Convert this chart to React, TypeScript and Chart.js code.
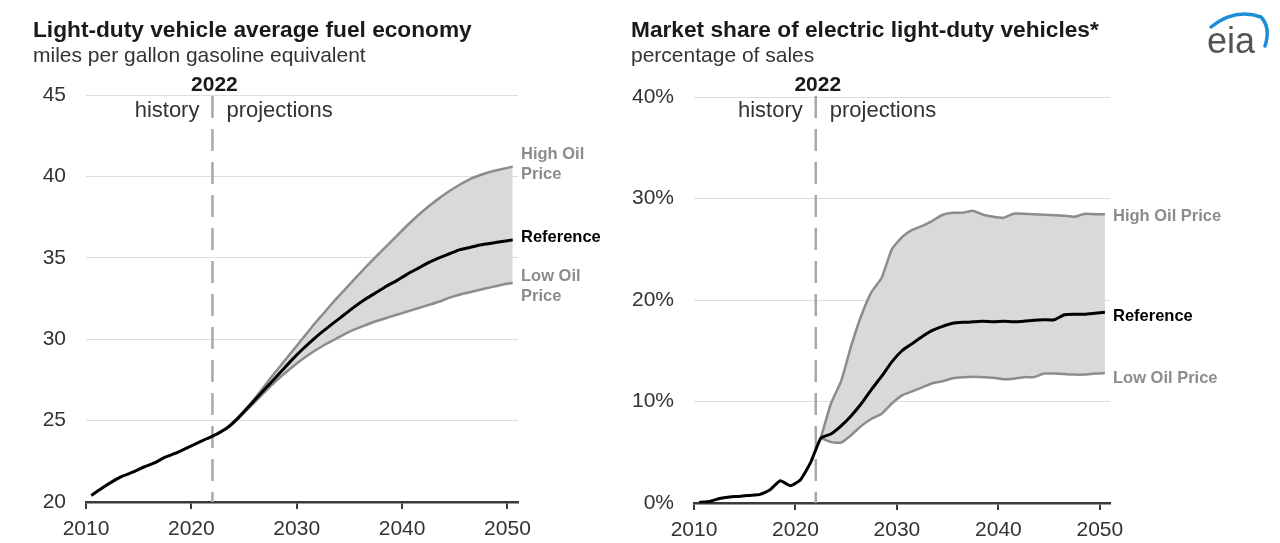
import React, { useEffect, useRef } from "react";
import { Chart, registerables } from "chart.js";

Chart.register(...registerables);

const FONT = "'Liberation Sans', Arial, Helvetica, sans-serif";

// ---------- data ----------
const years = [
  2010, 2011, 2012, 2013, 2014, 2015, 2016, 2017, 2018, 2019, 2020, 2021, 2022,
  2023, 2024, 2025, 2026, 2027, 2028, 2029, 2030, 2031, 2032, 2033, 2034, 2035,
  2036, 2037, 2038, 2039, 2040, 2041, 2042, 2043, 2044, 2045, 2046, 2047, 2048,
  2049, 2050,
];
const projYears = [
  2022, 2023, 2024, 2025, 2026, 2027, 2028, 2029, 2030, 2031, 2032, 2033, 2034,
  2035, 2036, 2037, 2038, 2039, 2040, 2041, 2042, 2043, 2044, 2045, 2046, 2047,
  2048, 2049, 2050,
];

// Light-duty vehicle average fuel economy (mpg gasoline equivalent)
const mpgReference = [
  20.4, 20.85, 21.25, 21.6, 21.85, 22.15, 22.4, 22.75, 23.0, 23.3, 23.6, 23.9,
  24.2, 24.6, 25.2, 25.9, 26.6, 27.3, 28.0, 28.7, 29.35, 29.95, 30.5, 31.0,
  31.5, 32.0, 32.45, 32.85, 33.25, 33.6, 34.0, 34.35, 34.7, 35.0, 35.25, 35.5,
  35.65, 35.8, 35.9, 36.0, 36.1,
];
const mpgHigh = [
  24.2, 24.65, 25.25, 25.95, 26.75, 27.6, 28.4, 29.2, 30.0, 30.8, 31.55, 32.3,
  33.0, 33.7, 34.4, 35.05, 35.7, 36.35, 37.0, 37.6, 38.15, 38.65, 39.1, 39.5,
  39.85, 40.1, 40.3, 40.45, 40.6,
];
const mpgLow = [
  24.2, 24.6, 25.15, 25.8, 26.45, 27.1, 27.7, 28.25, 28.75, 29.2, 29.6, 29.95,
  30.3, 30.6, 30.85, 31.1, 31.3, 31.5, 31.7, 31.9, 32.1, 32.3, 32.55, 32.75,
  32.9, 33.05, 33.2, 33.35, 33.45,
];

// Market share of electric light-duty vehicles (% of sales)
const evReference = [
  0.05, 0.15, 0.45, 0.6, 0.65, 0.75, 0.85, 1.3, 2.2, 1.7, 2.3, 4.0, 6.4, 6.8,
  7.6, 8.6, 9.8, 11.2, 12.5, 13.9, 15.0, 15.7, 16.4, 17.0, 17.4, 17.7, 17.8,
  17.85, 17.9, 17.85, 17.9, 17.85, 17.9, 18.0, 18.05, 18.05, 18.55, 18.6, 18.6,
  18.7, 18.8,
];
const evHigh = [
  6.4, 9.8, 12.0, 15.5, 18.5, 20.8, 22.2, 25.0, 26.2, 26.9, 27.3, 27.8, 28.4,
  28.6, 28.6, 28.8, 28.4, 28.2, 28.1, 28.5, 28.5, 28.45, 28.4, 28.35, 28.3,
  28.2, 28.5, 28.45, 28.45,
];
const evLow = [
  6.4, 6.0, 5.95, 6.7, 7.6, 8.3, 8.8, 9.8, 10.6, 11.0, 11.4, 11.8, 12.0, 12.3,
  12.4, 12.45, 12.4, 12.35, 12.2, 12.25, 12.4, 12.4, 12.75, 12.75, 12.7, 12.65,
  12.65, 12.75, 12.8,
];

const xTicks = [2010, 2020, 2030, 2040, 2050];
const mpgTicks = [20, 25, 30, 35, 40, 45];
const evTicks = [0, 10, 20, 30, 40];
const splitYear = 2022;

const leftTitle = "Light-duty vehicle average fuel economy";
const leftSubtitle = "miles per gallon gasoline equivalent";
const rightTitle = "Market share of electric light-duty vehicles*";
const rightSubtitle = "percentage of sales";

// ---------- helpers ----------
const toPoints = (xs: number[], ys: number[]) =>
  xs.map((yr, i) => ({ x: yr + 0.5, y: ys[i] }));

const overlayPlugin = {
  id: "overlay",
  beforeDatasetsDraw(chart: any) {
    const { ctx, chartArea, scales } = chart;
    const dx = scales.x.getPixelForValue(splitYear);
    ctx.save();
    ctx.strokeStyle = "#a8a8a8";
    ctx.lineWidth = 2.5;
    ctx.setLineDash([22, 11]);
    ctx.beginPath();
    ctx.moveTo(dx, 96);
    ctx.lineTo(dx, chartArea.bottom);
    ctx.stroke();
    ctx.restore();
  },
  afterDraw(chart: any, _args: any, opts: any) {
    const { ctx, chartArea, scales } = chart;
    const dx = scales.x.getPixelForValue(splitYear);
    ctx.save();
    ctx.textBaseline = "alphabetic";
    ctx.textAlign = "left";
    ctx.fillStyle = "#1a1a1a";
    ctx.font = `bold 22.7px ${FONT}`;
    ctx.fillText(opts.title, opts.titleX, 37);
    ctx.fillStyle = "#333";
    ctx.font = `21px ${FONT}`;
    ctx.fillText(opts.subtitle, opts.titleX, 62);

    ctx.textAlign = "center";
    ctx.fillStyle = "#1a1a1a";
    ctx.font = `bold 21px ${FONT}`;
    ctx.fillText(String(splitYear), dx + 2, 91);

    ctx.fillStyle = "#333";
    ctx.font = `22px ${FONT}`;
    ctx.textAlign = "right";
    ctx.fillText("history", dx - 13, 117);
    ctx.textAlign = "left";
    ctx.fillText("projections", dx + 14, 117);

    ctx.font = `bold 16.5px ${FONT}`;
    ctx.textBaseline = "middle";
    for (const l of opts.labels) {
      const meta = chart.getDatasetMeta(l.dataset);
      const last = meta.data[meta.data.length - 1];
      const ly = last.y + l.dy;
      ctx.fillStyle = l.color;
      l.lines.forEach((t: string, i: number) => {
        ctx.fillText(t, chartArea.right + 3, ly + (i - (l.lines.length - 1) / 2) * 20);
      });
    }

    if (opts.logo) {
      const lx = chart.width - 73;
      ctx.fillStyle = "#555";
      ctx.font = `36px ${FONT}`;
      ctx.textBaseline = "alphabetic";
      ctx.textAlign = "left";
      ctx.fillText("eia", lx, 53);
      ctx.strokeStyle = "#1a8fd6";
      ctx.lineWidth = 3.5;
      ctx.lineCap = "round";
      ctx.beginPath();
      ctx.moveTo(lx + 4, 27);
      ctx.quadraticCurveTo(lx + 28, 8, lx + 54, 17);
      ctx.quadraticCurveTo(lx + 64, 28, lx + 58, 46);
      ctx.stroke();
    }
    ctx.restore();
  },
};

function makeConfig(opts: {
  ref: { x: number; y: number }[];
  high: { x: number; y: number }[];
  low: { x: number; y: number }[];
  yMin: number;
  yMax: number;
  yTicks: number[];
  yFmt: (v: number) => string;
  yWidth: number;
  xHeight: number;
  padTop: number;
  padRight: number;
  overlay: any;
}): any {
  const tickFont = { family: FONT, size: 21 };
  return {
    type: "line",
    data: {
      datasets: [
        {
          data: opts.ref,
          borderColor: "#000",
          borderWidth: 3,
          pointRadius: 0,
          fill: false,
          tension: 0.15,
        },
        {
          data: opts.high,
          borderColor: "#8c8c8c",
          borderWidth: 2.5,
          pointRadius: 0,
          fill: "+1",
          backgroundColor: "#d9d9d9",
          tension: 0.15,
        },
        {
          data: opts.low,
          borderColor: "#8c8c8c",
          borderWidth: 2.5,
          pointRadius: 0,
          fill: false,
          tension: 0.15,
        },
      ],
    },
    options: {
      responsive: false,
      animation: false,
      events: [],
      layout: { padding: { top: opts.padTop, right: opts.padRight, left: 0, bottom: 0 } },
      plugins: {
        legend: { display: false },
        tooltip: { enabled: false },
        filler: { drawTime: "beforeDatasetsDraw" },
        overlay: opts.overlay,
      },
      scales: {
        x: {
          type: "linear",
          min: 2010,
          max: 2051,
          afterBuildTicks: (s: any) => {
            s.ticks = xTicks.map((v) => ({ value: v }));
          },
          afterFit: (s: any) => {
            s.height = opts.xHeight;
          },
          grid: {
            drawOnChartArea: false,
            drawTicks: true,
            tickLength: 7,
            color: "#3a3a3a",
            lineWidth: 2,
          },
          border: { display: true, color: "#3a3a3a", width: 2.5 },
          ticks: {
            font: tickFont,
            color: "#333",
            padding: 8,
            maxRotation: 0,
            autoSkip: false,
            callback: (v: number) => String(v),
          },
        },
        y: {
          type: "linear",
          min: opts.yMin,
          max: opts.yMax,
          afterBuildTicks: (s: any) => {
            s.ticks = opts.yTicks.map((v) => ({ value: v }));
          },
          afterFit: (s: any) => {
            s.width = opts.yWidth;
          },
          grid: { color: "#dedede", lineWidth: 1, drawTicks: false },
          border: { display: false },
          ticks: {
            font: tickFont,
            color: "#333",
            padding: 20,
            callback: (v: number) => opts.yFmt(v),
          },
        },
      },
    },
    plugins: [overlayPlugin],
  };
}

export default function App() {
  const leftRef = useRef<HTMLCanvasElement>(null);
  const rightRef = useRef<HTMLCanvasElement>(null);

  useEffect(() => {
    const left = new Chart(
      leftRef.current as HTMLCanvasElement,
      makeConfig({
        ref: toPoints(years, mpgReference),
        high: toPoints(projYears, mpgHigh),
        low: toPoints(projYears, mpgLow),
        yMin: 20,
        yMax: 45,
        yTicks: mpgTicks,
        yFmt: (v) => String(v),
        yWidth: 86,
        xHeight: 41,
        padTop: 95,
        padRight: 92,
        overlay: {
          title: leftTitle,
          subtitle: leftSubtitle,
          titleX: 33,
          logo: false,
          labels: [
            { dataset: 1, lines: ["High Oil", "Price"], color: "#8c8c8c", dy: -2 },
            { dataset: 0, lines: ["Reference"], color: "#000", dy: -2 },
            { dataset: 2, lines: ["Low Oil", "Price"], color: "#8c8c8c", dy: 3 },
          ],
        },
      })
    );
    const right = new Chart(
      rightRef.current as HTMLCanvasElement,
      makeConfig({
        ref: toPoints(years, evReference),
        high: toPoints(projYears, evHigh),
        low: toPoints(projYears, evLow),
        yMin: 0,
        yMax: 40,
        yTicks: evTicks,
        yFmt: (v) => `${v}%`,
        yWidth: 84,
        xHeight: 40,
        padTop: 97,
        padRight: 170,
        overlay: {
          title: rightTitle,
          subtitle: rightSubtitle,
          titleX: 21,
          logo: true,
          labels: [
            { dataset: 1, lines: ["High Oil Price"], color: "#8c8c8c", dy: 2 },
            { dataset: 0, lines: ["Reference"], color: "#000", dy: 4 },
            { dataset: 2, lines: ["Low Oil Price"], color: "#8c8c8c", dy: 5 },
          ],
        },
      })
    );
    return () => {
      left.destroy();
      right.destroy();
    };
  }, []);

  return (
    <div
      style={{
        position: "fixed",
        left: 0,
        top: 0,
        width: 1280,
        height: 543,
        background: "#fff",
        overflow: "hidden",
      }}
    >
      <canvas
        ref={leftRef}
        width={610}
        height={543}
        style={{ position: "absolute", left: 0, top: 0, width: 610, height: 543 }}
      />
      <canvas
        ref={rightRef}
        width={670}
        height={543}
        style={{ position: "absolute", left: 610, top: 0, width: 670, height: 543 }}
      />
    </div>
  );
}
